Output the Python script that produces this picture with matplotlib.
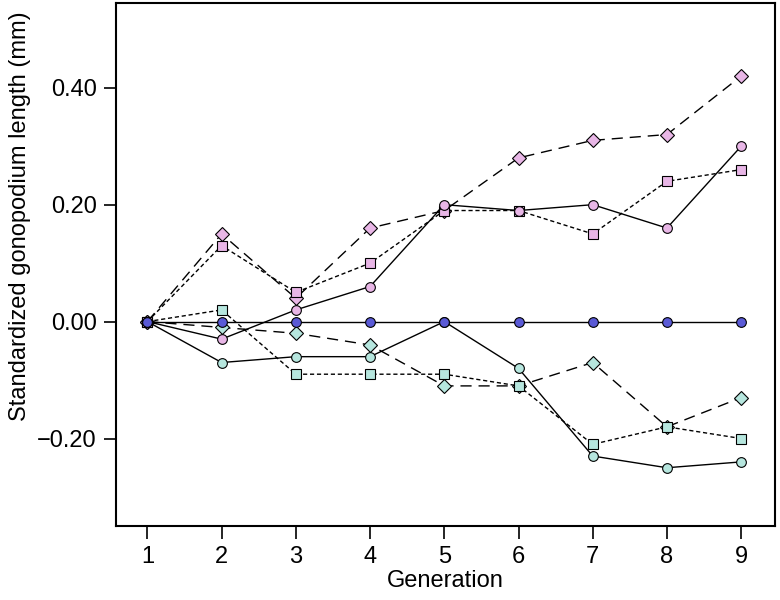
import matplotlib
matplotlib.use('Agg')
import matplotlib.pyplot as plt

plt.rcParams['font.family'] = ['Liberation Sans', 'DejaVu Sans']

generation = [1, 2, 3, 4, 5, 6, 7, 8, 9]

control = [0, 0, 0, 0, 0, 0, 0, 0, 0]

pink_diamond = [0, 0.15, 0.04, 0.16, 0.19, 0.28, 0.31, 0.32, 0.42]
pink_square = [0, 0.13, 0.05, 0.10, 0.19, 0.19, 0.15, 0.24, 0.26]
pink_circle = [0, -0.03, 0.02, 0.06, 0.20, 0.19, 0.20, 0.16, 0.30]

teal_circle = [0, -0.07, -0.06, -0.06, 0.00, -0.08, -0.23, -0.25, -0.24]
teal_square = [0, 0.02, -0.09, -0.09, -0.09, -0.11, -0.21, -0.18, -0.20]
teal_diamond = [0, -0.01, -0.02, -0.04, -0.11, -0.11, -0.07, -0.18, -0.13]

yticks = [-0.20, 0.00, 0.20, 0.40]
ytick_labels = ['\u22120.20', '0.00', '0.20', '0.40']

pink = '#e8b6e6'
teal = '#b6e6de'
blue = '#5a5ad6'

fig = plt.figure(figsize=(7.8, 6), dpi=100)
ax = fig.add_axes([0.149, 0.123, 0.845, 0.872])

long_dash = (0, (8, 5))
short_dash = (0, (3, 2))

def series(y, color, marker, ls, ms):
    ax.plot(generation, y, color='black', lw=1, linestyle=ls,
            marker=marker, markersize=ms, markerfacecolor=color,
            markeredgecolor='black', markeredgewidth=0.8)

series(teal_diamond, teal, 'D', long_dash, 7.5)
series(teal_square, teal, 's', short_dash, 6.5)
series(teal_circle, teal, 'o', '-', 7)
series(pink_diamond, pink, 'D', long_dash, 7.5)
series(pink_square, pink, 's', short_dash, 6.5)
series(pink_circle, pink, 'o', '-', 7)
series(control, blue, 'o', '-', 7)

ax.set_xlim(0.58, 9.46)
ax.set_ylim(-0.35, 0.545)
ax.set_xticks(generation)
ax.set_yticks(yticks)
ax.set_yticklabels(ytick_labels)
ax.tick_params(direction='out', length=9, width=1.2, labelsize=17, pad=5)
for s in ax.spines.values():
    s.set_linewidth(1.5)

ax.set_xlabel('Generation', fontsize=17, labelpad=2)
ax.set_ylabel('Standardized gonopodium length (mm)', fontsize=17)
ax.yaxis.set_label_coords(-0.13, 0.593)

fig.savefig('out.png', dpi=100)
